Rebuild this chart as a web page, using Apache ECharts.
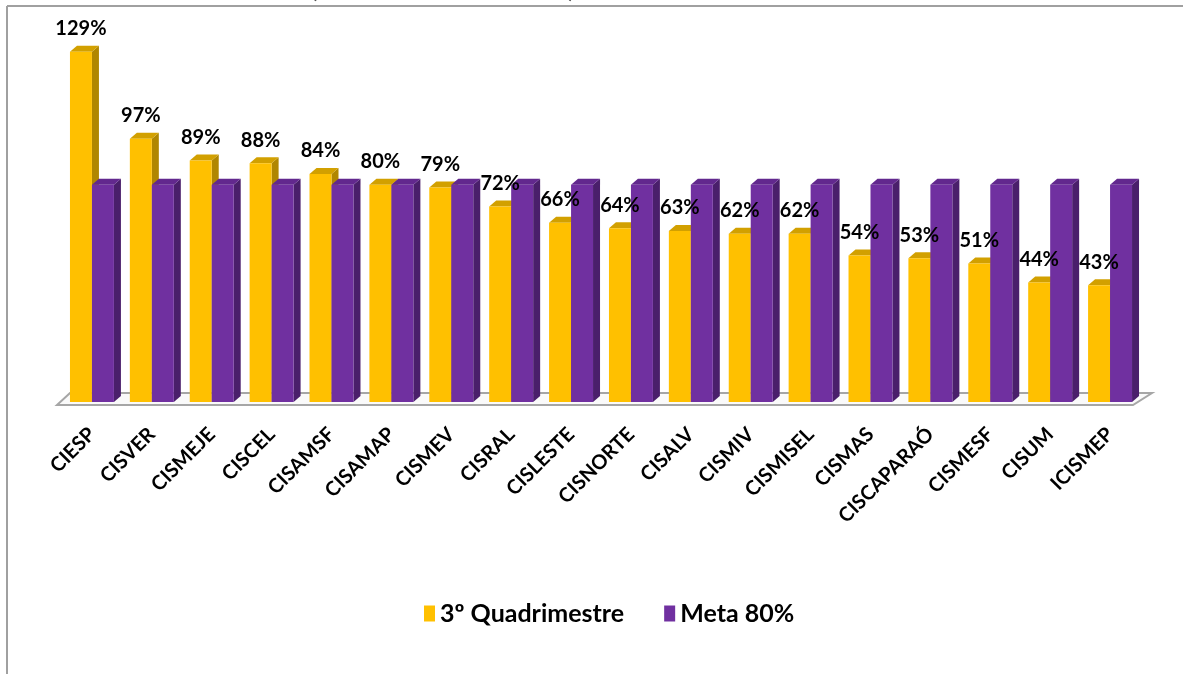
<!DOCTYPE html>
<html>
<head>
<meta charset="utf-8">
<script src="https://cdn.jsdelivr.net/npm/echarts@6/dist/echarts.min.js"></script>
<style>html,body{margin:0;padding:0;background:#fff;}#c{width:1183px;height:674px;}</style>
</head>
<body>
<div id="c"></div>
<script>
const categories = ['CIESP','CISVER','CISMEJE','CISCEL','CISAMSF','CISAMAP','CISMEV','CISRAL','CISLESTE','CISNORTE','CISALV','CISMIV','CISMISEL','CISMAS','CISCAPARAÓ','CISMESF','CISUM','ICISMEP'];
const quadrimestre = [129, 97, 89, 88, 84, 80, 79, 72, 66, 64, 63, 62, 62, 54, 53, 51, 44, 43];
const meta = [80, 80, 80, 80, 80, 80, 80, 80, 80, 80, 80, 80, 80, 80, 80, 80, 80, 80];
const seriesNames = ['3º Quadrimestre', 'Meta 80%'];

const FONT = 'Lato, "Open Sans", sans-serif';
const DX = 7, DY = 6;
const yellow = {front:'#FFC000', top:'#D2A000', side:'#B08600'};
const purple = {front:'#7030A0', top:'#62288E', side:'#4A1F6B'};

function barRenderer(colors, offsetFrac) {
  return function (params, api) {
    const cat = api.value(0), v = api.value(1);
    const base = api.coord([cat, 0]);
    const top = api.coord([cat, v]);
    const cw = api.size([1, 0])[0];
    const bw = cw * 0.367;
    const cx = base[0] + offsetFrac * cw;
    const x0 = cx - bw / 2, x1 = cx + bw / 2;
    const yb = base[1], yt = top[1];
    return {
      type: 'group',
      children: [
        {type:'polygon', shape:{points:[[x1,yb],[x1,yt],[x1+DX,yt-DY],[x1+DX,yb-DY]]}, style:{fill:colors.side}},
        {type:'polygon', shape:{points:[[x0,yt],[x1,yt],[x1+DX,yt-DY],[x0+DX,yt-DY]]}, style:{fill:colors.top}},
        {type:'rect', shape:{x:x0, y:yt, width:bw, height:yb-yt}, style:{fill:colors.front}}
      ]
    };
  };
}

const qData = quadrimestre.map((v, i) => [i, v]);
const mData = meta.map((v, i) => [i, v]);

const chart = echarts.init(document.getElementById('c'), null, {renderer:'canvas'});
chart.setOption({
  animation: false,
  backgroundColor: '#fff',
  grid: {left: 62, right: 43, top: 22, bottom: 272, containLabel: false},
  xAxis: {
    type: 'category', data: categories,
    axisLine: {show: false}, axisTick: {show: false}, splitLine: {show: false},
    axisLabel: {rotate: 45, margin: 29, interval: 0, color: '#000', fontWeight: 'bold', fontSize: 20, fontFamily: FONT}
  },
  yAxis: {type: 'value', min: 0, max: 140, show: false, splitLine: {show: false}},
  legend: {
    data: seriesNames, left: 419, top: 596, itemGap: 40, itemWidth: 11, itemHeight: 16, icon: 'rect',
    textStyle: {color: '#000', fontWeight: 'bold', fontSize: 25, fontFamily: FONT}
  },
  graphic: [
    {type:'line', shape:{x1:7, y1:6, x2:1183, y2:6}, style:{stroke:'#A0A0A0', lineWidth:2}},
    {type:'line', shape:{x1:7, y1:6, x2:7, y2:674}, style:{stroke:'#A0A0A0', lineWidth:2}},
    {type:'text', left: 310, top: -26, style:{text:'(', font:'28px ' + FONT, fill:'#444'}},
    {type:'text', left: 568, top: -26, style:{text:')', font:'28px ' + FONT, fill:'#444'}}
  ],
  series: [
    {
      type: 'custom', name: 'floor', silent: true, z: 1,
      data: [[0, 0]],
      renderItem: function (params, api) {
        const cs = params.coordSys;
        const yb = cs.y + cs.height;
        const L = cs.x, R = cs.x + cs.width;
        return {type:'polygon', shape:{points:[[L-5,yb+3],[R-7,yb+3],[R+12,yb-9],[L+8,yb-9]]},
          style:{fill:'#fafafa', stroke:'#A6A6A6', lineWidth:2}};
      }
    },
    {
      type: 'custom', name: seriesNames[0], z: 2,
      itemStyle: {color: yellow.front},
      data: qData,
      encode: {x: 0, y: 1},
      renderItem: barRenderer(yellow, -0.1835)
    },
    {
      type: 'custom', name: seriesNames[1], z: 3,
      itemStyle: {color: purple.front},
      data: mData,
      encode: {x: 0, y: 1},
      renderItem: barRenderer(purple, 0.1835)
    },
    {
      type: 'custom', name: 'labels', z: 10, silent: true,
      data: qData,
      encode: {x: 0, y: 1},
      renderItem: function (params, api) {
        const cat = api.value(0), v = api.value(1);
        const p = api.coord([cat, v]);
        const cw = api.size([1, 0])[0];
        return {type:'text', style:{text: v + '%', x: p[0] - 0.1835 * cw, y: p[1] - 23,
          align:'center', verticalAlign:'middle', font:'bold 20px ' + FONT, fill:'#000'}};
      }
    }
  ]
});
</script>
</body>
</html>
